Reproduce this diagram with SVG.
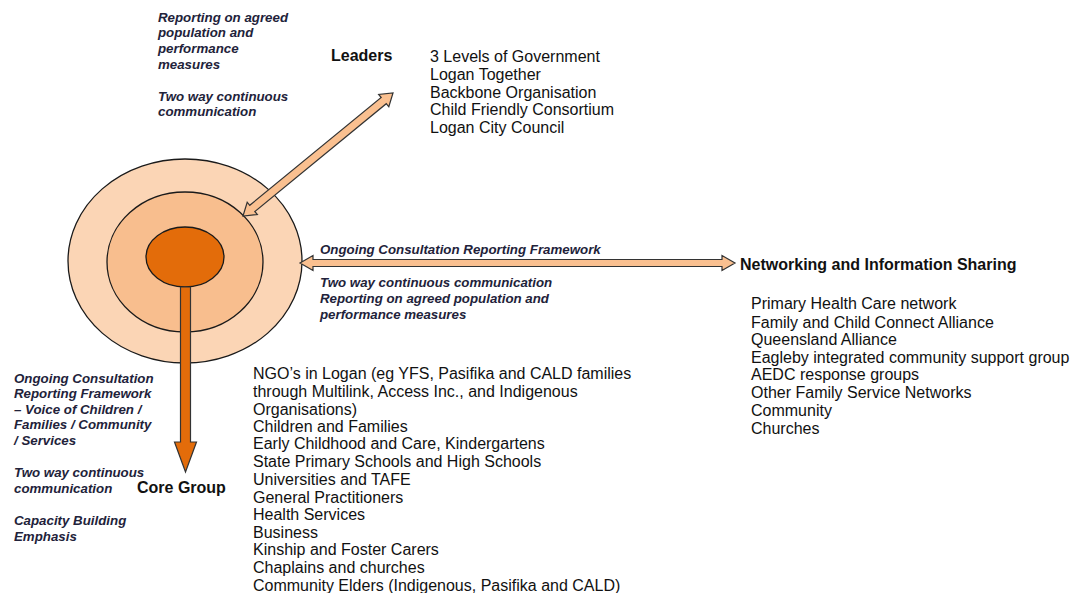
<svg xmlns="http://www.w3.org/2000/svg" width="1073" height="593" viewBox="0 0 1073 593">
<style>
.t{font-family:"Liberation Sans",Arial,sans-serif;font-size:16px;fill:#111}
.b{font-family:"Liberation Sans",Arial,sans-serif;font-size:16px;font-weight:bold;fill:#111}
.i{font-family:"Liberation Sans",Arial,sans-serif;font-size:13.3px;font-weight:bold;font-style:italic;fill:#22223a}
.ring{stroke:#1a1a1a;stroke-width:1.3}
.arr{fill:#FAC090;stroke:#333;stroke-width:1.2}
</style>
<rect width="1073" height="593" fill="#fff"/>
<g id="target">
<ellipse class="ring" cx="185" cy="261" rx="117" ry="102" fill="#FBD5B5"/>
<ellipse class="ring" cx="185" cy="262" rx="78" ry="70" fill="#F8BE8E"/>
<ellipse class="ring" cx="185" cy="257" rx="39" ry="30" fill="#E36C0A"/>
</g>
<g id="connectors">
<polygon class="arr" transform="translate(243,216) rotate(-39.35)" points="0,0 12,-8 12,-4 182,-4 182,-8 194,0 182,8 182,4 12,4 12,8"/>
<polygon class="arr" points="300,263 313,255.5 313,259.5 722,259.5 722,255.5 735,263 722,270.5 722,266.5 313,266.5 313,270.5"/>
<polygon fill="#E36C0A" stroke="#333" stroke-width="1.2" points="180.5,287 190.5,287 190.5,442 196.5,442 185.5,472 174.5,442 180.5,442"/>
</g>
<g id="leaders">
<text class="b" x="331" y="61">Leaders</text>
<text class="t" x="430" y="62">3 Levels of Government</text>
<text class="t" x="430" y="80">Logan Together</text>
<text class="t" x="430" y="98">Backbone Organisation</text>
<text class="t" x="430" y="115">Child Friendly Consortium</text>
<text class="t" x="430" y="133">Logan City Council</text>
</g>
<g id="leaders-notes">
<text class="i" x="158" y="21.5">Reporting on agreed</text>
<text class="i" x="158" y="36.5">population and</text>
<text class="i" x="158" y="52.5">performance</text>
<text class="i" x="158" y="68.5">measures</text>
<text class="i" x="158" y="100.5">Two way continuous</text>
<text class="i" x="158" y="115.5">communication</text>
</g>
<g id="network-notes">
<text class="i" x="320" y="253.5">Ongoing Consultation Reporting Framework</text>
<text class="i" x="320" y="286.5">Two way continuous communication</text>
<text class="i" x="320" y="302.5">Reporting on agreed population and</text>
<text class="i" x="320" y="318.5">performance measures</text>
</g>
<g id="networking">
<text class="b" x="740" y="270">Networking and Information Sharing</text>
<text class="t" x="751" y="309">Primary Health Care network</text>
<text class="t" x="751" y="328">Family and Child Connect Alliance</text>
<text class="t" x="751" y="345">Queensland Alliance</text>
<text class="t" x="751" y="363">Eagleby integrated community support group</text>
<text class="t" x="751" y="380">AEDC response groups</text>
<text class="t" x="751" y="398">Other Family Service Networks</text>
<text class="t" x="751" y="416">Community</text>
<text class="t" x="751" y="434">Churches</text>
</g>
<g id="core-notes">
<text class="i" x="14" y="382.5">Ongoing Consultation</text>
<text class="i" x="14" y="397.5">Reporting Framework</text>
<text class="i" x="14" y="413.5">– Voice of Children /</text>
<text class="i" x="14" y="428.5">Families / Community</text>
<text class="i" x="14" y="444.5">/ Services</text>
<text class="i" x="14" y="476.5">Two way continuous</text>
<text class="i" x="14" y="492.5">communication</text>
<text class="i" x="14" y="524.5">Capacity Building</text>
<text class="i" x="14" y="540.5">Emphasis</text>
</g>
<g id="core-group">
<text class="b" x="137" y="493">Core Group</text>
<text class="t" x="253" y="379">NGO’s in Logan (eg YFS, Pasifika and CALD families</text>
<text class="t" x="253" y="397">through Multilink, Access Inc., and Indigenous</text>
<text class="t" x="253" y="415">Organisations)</text>
<text class="t" x="253" y="432">Children and Families</text>
<text class="t" x="253" y="449">Early Childhood and Care, Kindergartens</text>
<text class="t" x="253" y="467">State Primary Schools and High Schools</text>
<text class="t" x="253" y="485">Universities and TAFE</text>
<text class="t" x="253" y="503">General Practitioners</text>
<text class="t" x="253" y="520">Health Services</text>
<text class="t" x="253" y="538">Business</text>
<text class="t" x="253" y="555">Kinship and Foster Carers</text>
<text class="t" x="253" y="573">Chaplains and churches</text>
<text class="t" x="253" y="591">Community Elders (Indigenous, Pasifika and CALD)</text>
</g>
</svg>
